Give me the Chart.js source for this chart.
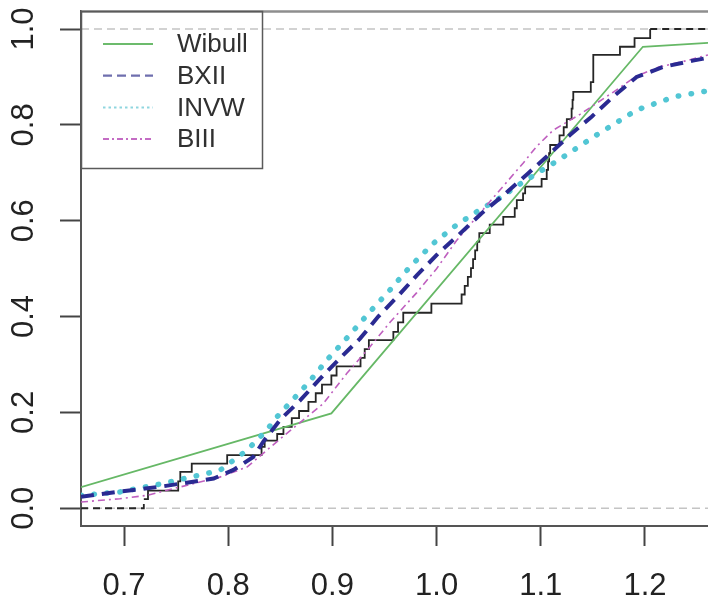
<!DOCTYPE html>
<html><head><meta charset="utf-8">
<script src="https://cdn.jsdelivr.net/npm/chart.js@4.4.1/dist/chart.umd.min.js"></script>
<style>html,body{margin:0;padding:0;background:#fff}canvas{display:block}</style>
</head><body>
<canvas id="c" width="708" height="610"></canvas>
<script>
// ---- data ----
const xTicks = [0.7, 0.8, 0.9, 1.0, 1.1, 1.2];
const yTicks = [0.0, 0.2, 0.4, 0.6, 0.8, 1.0];
const seriesNames = ['Wibull', 'BXII', 'INVW', 'BIII'];
const refLevels = [0, 1];

// empirical CDF: jump positions and level after each jump
const ecdfX = [0.6587, 0.719, 0.723, 0.752, 0.754, 0.765, 0.799, 0.832, 0.835, 0.847, 0.853,
  0.861, 0.868, 0.877, 0.884, 0.890, 0.899, 0.904, 0.927, 0.931, 0.935, 0.9585, 0.963, 0.968,
  0.995, 1.024, 1.027, 1.030, 1.033, 1.035, 1.037, 1.039, 1.041, 1.051, 1.064, 1.075, 1.077,
  1.083, 1.085, 1.1008, 1.1057, 1.107, 1.108, 1.109, 1.118, 1.122, 1.125, 1.1296, 1.1305,
  1.1312, 1.148, 1.1504, 1.176, 1.190, 1.205, 1.2605];
const ecdfY = [0, 0.019, 0.037, 0.056, 0.076, 0.093, 0.111, 0.128, 0.141, 0.155, 0.170,
  0.188, 0.203, 0.222, 0.240, 0.258, 0.277, 0.296, 0.314, 0.332, 0.351, 0.368, 0.388, 0.408,
  0.427, 0.446, 0.464, 0.483, 0.501, 0.520, 0.538, 0.556, 0.574, 0.592, 0.608, 0.626, 0.643,
  0.657, 0.671, 0.687, 0.706, 0.724, 0.741, 0.758, 0.778, 0.795, 0.812, 0.834, 0.852,
  0.869, 0.889, 0.946, 0.963, 0.981, 1.0, 1.0];

const weibullX = [0.6587, 0.899, 1.198, 1.2605];
const weibullY = [0.044, 0.198, 0.963, 0.971];

const bxiiX = [0.6587, 0.693, 0.738, 0.786, 0.805, 0.824, 0.834, 0.850, 0.869, 0.888, 0.907,
  0.9265, 0.944, 0.963, 0.981, 1.0017, 1.021, 1.043, 1.064, 1.088, 1.1088, 1.128, 1.1488,
  1.1696, 1.192, 1.2176, 1.246, 1.2605];
const bxiiY = [0.024, 0.034, 0.046, 0.062, 0.080, 0.107, 0.140, 0.185, 0.225, 0.270, 0.3125,
  0.354, 0.400, 0.443, 0.486, 0.532, 0.570, 0.615, 0.653, 0.699, 0.740, 0.779, 0.817,
  0.859, 0.900, 0.921, 0.934, 0.940];

const invwX = [0.6587, 0.696, 0.738, 0.792, 0.818, 0.837, 0.8465, 0.877, 0.896, 0.915, 0.936,
  0.955, 0.9745, 0.997, 1.019, 1.043, 1.0577, 1.0817, 1.118, 1.1536, 1.192, 1.2288, 1.2605];
const invwY = [0.027, 0.034, 0.052, 0.079, 0.121, 0.163, 0.190, 0.262, 0.3125, 0.358, 0.410,
  0.455, 0.504, 0.553, 0.591, 0.625, 0.643, 0.679, 0.728, 0.779, 0.831, 0.859, 0.871];

const biiiX = [0.6587, 0.696, 0.722, 0.754, 0.792, 0.818, 0.837, 0.850, 0.891, 0.9137, 0.9361,
  0.9553, 0.981, 1.0, 1.019, 1.050, 1.083, 1.096, 1.112, 1.1376, 1.170, 1.192, 1.214, 1.240, 1.2605];
const biiiY = [0.013, 0.020, 0.027, 0.0445, 0.065, 0.086, 0.121, 0.145, 0.218, 0.281, 0.337,
  0.388, 0.450, 0.500, 0.558, 0.637, 0.720, 0.755, 0.789, 0.822, 0.869, 0.902, 0.921, 0.934, 0.946];

const xMin = 0.6587, xMax = 1.2605, yMin = -0.037, yMax = 1.0376;

// ---- helpers ----
const pts = (xs, ys) => xs.map((x, i) => ({x: x, y: ys[i]}));
const FONT = '"Liberation Sans", Arial, sans-serif';

const legendStyles = {
  'Wibull': {color: '#6cbb6c', dash: [], width: 2},
  'BXII':   {color: '#6f6fae', dash: [9, 5], width: 2.2},
  'INVW':   {color: '#8fd6df', dash: [2.5, 3], width: 2},
  'BIII':   {color: '#c46cc4', dash: [6, 3, 2, 3], width: 2}
};

const framePlugin = {
  id: 'frameLegend',
  beforeDraw(chart) {
    const c = chart.ctx;
    c.save(); c.fillStyle = '#fff'; c.fillRect(0, 0, chart.width, chart.height); c.restore();
  },
  afterDraw(chart) {
    const c = chart.ctx, a = chart.chartArea;
    c.save();
    // top frame line
    c.strokeStyle = '#8e8e8e'; c.lineWidth = 2.5;
    c.beginPath(); c.moveTo(a.left, a.top + 0.5); c.lineTo(a.right, a.top + 0.5); c.stroke();
    // legend box
    c.strokeStyle = '#5a5a5a'; c.lineWidth = 1.5;
    c.strokeRect(a.left + 0.5, a.top + 0.5, 181, 157);
    seriesNames.forEach((name, i) => {
      const st = legendStyles[name];
      const y = a.top + 33 + i * 31.7;
      c.strokeStyle = st.color; c.lineWidth = st.width; c.setLineDash(st.dash);
      c.beginPath(); c.moveTo(a.left + 22, y); c.lineTo(a.left + 72, y); c.stroke();
      c.setLineDash([]);
      c.fillStyle = '#303030'; c.font = '26px ' + FONT;
      c.textBaseline = 'middle'; c.textAlign = 'left';
      c.fillText(name, a.left + 96, y + 1);
    });
    c.restore();
  }
};

const lastE = ecdfX.length - 1;
const datasets = [
  // reference dashed lines at 0 and 1
  ...refLevels.map(v => ({
    label: 'ref' + v, data: [{x: xMin, y: v}, {x: xMax, y: v}],
    borderColor: '#c4c4c4', borderWidth: 1.5, borderDash: [8, 5], pointRadius: 0, order: 10
  })),
  {
    label: 'ECDF', data: pts(ecdfX, ecdfY), stepped: true,
    borderColor: '#262626', borderWidth: 1.8, pointRadius: 0, order: 6,
    segment: { borderDash: ctx => (ctx.p0DataIndex === 0 || ctx.p1DataIndex === lastE) ? [7, 5] : undefined }
  },
  { label: 'Wibull', data: pts(weibullX, weibullY), borderColor: '#66b866', borderWidth: 1.8,
    pointRadius: 0, order: 5 },
  { label: 'INVW', data: pts(invwX, invwY), borderColor: '#52c6d4', borderWidth: 5.5,
    borderDash: [0.5, 12.5], borderCapStyle: 'round', pointRadius: 0, order: 4 },
  { label: 'BIII', data: pts(biiiX, biiiY), borderColor: '#bf5fbf', borderWidth: 1.6,
    borderDash: [7, 4, 2, 4], pointRadius: 0, order: 3 },
  { label: 'BXII', data: pts(bxiiX, bxiiY), borderColor: '#2a2a92', borderWidth: 4,
    borderDash: [13, 8], pointRadius: 0, order: 2 }
];

new Chart(document.getElementById('c'), {
  type: 'line',
  data: { datasets: datasets },
  plugins: [framePlugin],
  options: {
    responsive: false, animation: false, devicePixelRatio: 1,
    layout: { padding: { top: 11, right: 0, bottom: 0, left: 0 } },
    plugins: { legend: { display: false }, tooltip: { enabled: false } },
    elements: { line: { tension: 0, fill: false } },
    scales: {
      x: {
        type: 'linear', min: xMin, max: xMax,
        afterBuildTicks: s => { s.ticks = xTicks.map(v => ({value: v})); },
        afterFit: s => { s.height = 84; s.paddingLeft = 0; s.paddingRight = 0; s.paddingTop = 0; s.paddingBottom = 0; },
        ticks: { autoSkip: false, maxRotation: 0, minRotation: 0, padding: 22,
          color: '#222', font: { size: 31, family: FONT },
          callback: v => Number(v).toFixed(1) },
        grid: { drawOnChartArea: false, drawTicks: true, tickLength: 20, tickColor: '#444', tickWidth: 2 },
        border: { display: true, color: '#555', width: 2 }
      },
      y: {
        type: 'linear', min: yMin, max: yMax,
        afterBuildTicks: s => { s.ticks = yTicks.map(v => ({value: v})); },
        afterFit: s => { s.width = 81; s.paddingLeft = 0; s.paddingRight = 0; s.paddingTop = 0; s.paddingBottom = 0; },
        ticks: { autoSkip: false, minRotation: 90, maxRotation: 90, crossAlign: 'center', padding: 14,
          color: '#222', font: { size: 31, family: FONT },
          callback: v => Number(v).toFixed(1) },
        grid: { drawOnChartArea: false, drawTicks: true, tickLength: 21, tickColor: '#444', tickWidth: 2 },
        border: { display: true, color: '#555', width: 2 }
      }
    }
  }
});
</script>
</body></html>
